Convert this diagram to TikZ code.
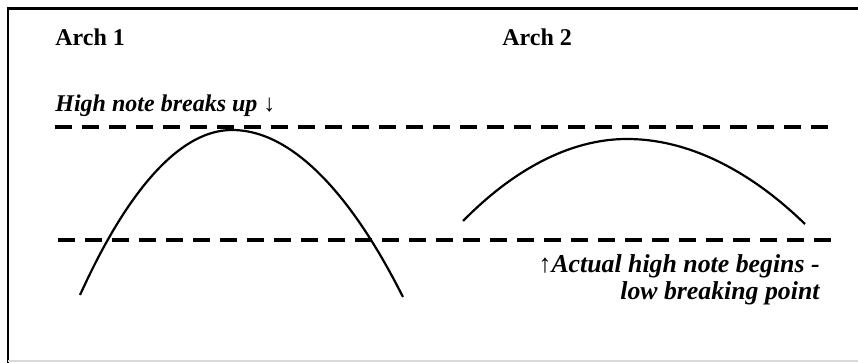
\documentclass[tikz,border=0pt]{standalone}
\usepackage{fontspec}
\setmainfont{Liberation Serif}
\begin{document}
\begin{tikzpicture}[x=0.5pt,y=-0.5pt,
    level/.style={line width=1.8pt,dash pattern=on 8.5pt off 5pt},
    archline/.style={line width=1.1pt},
    title/.style={anchor=base west,inner sep=0pt,font=\fontsize{12}{14}\selectfont\bfseries},
    remark/.style={inner sep=0pt,font=\fontsize{12}{13.5}\selectfont\bfseries\itshape}]
  \useasboundingbox (0,0) rectangle (858,363);
  % frame
  \draw[line width=1.4pt] (8,363) -- (8,8.5) -- (858,8.5);
  \draw[black!15,line width=0.6pt] (8,361) -- (858,361);
  \node[title] (A1) at (55,46) {Arch 1};
  \node[title] (A2) at (502,46) {Arch 2};
  \node[remark,anchor=base west] (H) at (55,112) {High note breaks up ↓};
  \node[remark,font=\fontsize{12.9}{13.5}\selectfont\bfseries\itshape,
        anchor=base east,align=right] (L) at (820,300) {↑Actual high note begins -\\low breaking point};
  % break levels
  \coordinate (u1) at (55,127);
  \coordinate (u2) at (828,127);
  \coordinate (d1) at (58,240);
  \coordinate (d2) at (832,240);
  \draw[level] (u1) -- (u2);
  \draw[level] (d1) -- (d2);
  % arches
  \coordinate (p1) at (80,295);
  \coordinate (t1) at (232,130);
  \coordinate (q1) at (403,297);
  \coordinate (p2) at (463,221);
  \coordinate (t2) at (627,139);
  \coordinate (q2) at (805,224);
  \draw[archline] (p1) parabola bend (t1) (q1);
  \draw[archline] (p2) parabola bend (t2) (q2);
\end{tikzpicture}
\end{document}
